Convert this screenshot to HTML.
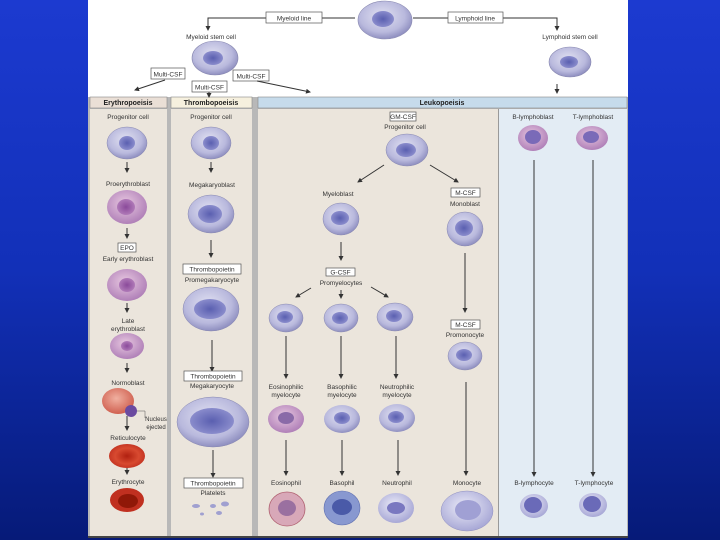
<!DOCTYPE html>
<html><head><meta charset="utf-8"><style>
html,body{margin:0;padding:0;width:720px;height:540px;overflow:hidden}
body{background:linear-gradient(180deg,#1c3ad0 0%,#1230b8 50%,#061a78 100%)}
svg{position:absolute;left:0;top:0}
text{font-family:"Liberation Sans",sans-serif;font-size:6.5px;fill:#333;text-anchor:middle}
.h{font-weight:bold;font-size:7px;fill:#222}
.a{stroke:#333;stroke-width:1;fill:none;marker-end:url(#ar)}
.bx{fill:#fff;stroke:#555;stroke-width:0.7}
</style></head><body>
<svg width="720" height="540" viewBox="0 0 720 540">
<defs>
<marker id="ar" markerWidth="5" markerHeight="5" refX="4" refY="2.5" orient="auto"><path d="M0,0L5,2.5L0,5z" fill="#333"/></marker>
<radialGradient id="cb" cx="45%" cy="40%" r="60%"><stop offset="0" stop-color="#e2e2f2"/><stop offset="0.7" stop-color="#b9b9dd"/><stop offset="1" stop-color="#8f8fc0"/></radialGradient>
<radialGradient id="nb" cx="50%" cy="50%" r="50%"><stop offset="0" stop-color="#5a5fb0"/><stop offset="1" stop-color="#8a8ccc"/></radialGradient>
<radialGradient id="cp" cx="45%" cy="40%" r="60%"><stop offset="0" stop-color="#e8c8e0"/><stop offset="1" stop-color="#b080b8"/></radialGradient>
<radialGradient id="np" cx="50%" cy="50%" r="50%"><stop offset="0" stop-color="#8a4a9a"/><stop offset="1" stop-color="#b07ab8"/></radialGradient>
<radialGradient id="rr" cx="50%" cy="50%" r="55%"><stop offset="0" stop-color="#b02010"/><stop offset="0.6" stop-color="#d84a30"/><stop offset="1" stop-color="#c03020"/></radialGradient>
<radialGradient id="cr" cx="45%" cy="40%" r="60%"><stop offset="0" stop-color="#f0b0a0"/><stop offset="1" stop-color="#d06050"/></radialGradient>
<radialGradient id="cl" cx="45%" cy="40%" r="60%"><stop offset="0" stop-color="#ececf8"/><stop offset="1" stop-color="#a8a8d6"/></radialGradient>
</defs>
<!-- panel -->
<rect x="88" y="0" width="540" height="97" fill="#fff"/>
<rect x="88" y="97" width="540" height="441" fill="#b8b8b8"/>
<rect x="90" y="97" width="77" height="11" fill="#eadfd6" stroke="#888" stroke-width="0.6"/>
<rect x="171" y="97" width="81" height="11" fill="#f6f0de" stroke="#888" stroke-width="0.6"/>
<rect x="258" y="97" width="369" height="11" fill="#c6dbeb" stroke="#888" stroke-width="0.6"/>
<rect x="90" y="109" width="77" height="427" fill="#ebe5dc"/>
<rect x="171" y="109" width="81" height="427" fill="#ebe5dc"/>
<rect x="258" y="109" width="240" height="427" fill="#ebe5dc"/>
<rect x="499" y="109" width="128" height="427" fill="#e3ecf4"/>
<line x1="498.5" y1="109" x2="498.5" y2="536" stroke="#999" stroke-width="1"/>
<text class="h" x="128" y="105">Erythropoeisis</text>
<text class="h" x="211" y="105">Thrombopoeisis</text>
<text class="h" x="442" y="105">Leukopoeisis</text>
<!-- top -->
<g><ellipse cx="385" cy="20" rx="27" ry="19" fill="url(#cb)" stroke="#8888b0" stroke-width="0.6"/><ellipse cx="383" cy="19" rx="11" ry="8" fill="url(#nb)"/></g>
<path d="M355 18H208V30" class="a"/><path d="M413 18H557V30" class="a"/>
<rect class="bx" x="266" y="12" width="56" height="11"/><text x="294" y="20.5">Myeloid line</text>
<rect class="bx" x="448" y="12" width="55" height="11"/><text x="475" y="20.5">Lymphoid line</text>
<text x="211" y="39">Myeloid stem cell</text><text x="570" y="39">Lymphoid stem cell</text>
<ellipse cx="215" cy="58" rx="23" ry="17" fill="url(#cb)" stroke="#8888b0" stroke-width="0.6"/><ellipse cx="213" cy="58" rx="10" ry="7" fill="url(#nb)"/>
<ellipse cx="570" cy="62" rx="21" ry="15" fill="url(#cb)" stroke="#8888b0" stroke-width="0.6"/><ellipse cx="569" cy="62" rx="9" ry="6" fill="url(#nb)"/>
<rect class="bx" x="151" y="68" width="34" height="11"/><text x="168" y="76.5">Multi-CSF</text>
<rect class="bx" x="192" y="81" width="35" height="11"/><text x="209.5" y="89.5">Multi-CSF</text>
<rect class="bx" x="233" y="70" width="36" height="11"/><text x="251" y="78.5">Multi-CSF</text>
<path d="M165 80L135 90" class="a"/><path d="M209 92V97" class="a"/><path d="M257 81L310 92" class="a"/><path d="M557 84V93" class="a"/>
<!-- Erythro -->
<text x="128" y="119">Progenitor cell</text>
<ellipse cx="127" cy="143" rx="20" ry="16" fill="url(#cb)" stroke="#8888b0" stroke-width="0.5"/><ellipse cx="127" cy="143" rx="8" ry="7" fill="url(#nb)"/>
<path d="M127 162V172" class="a"/>
<text x="128" y="186">Proerythroblast</text>
<ellipse cx="127" cy="207" rx="20" ry="17" fill="url(#cp)"/><ellipse cx="126" cy="207" rx="9" ry="8" fill="url(#np)"/>
<path d="M127 228V238" class="a"/>
<rect class="bx" x="118" y="243" width="18" height="9"/><text x="127" y="250">EPO</text>
<text x="128" y="261">Early erythroblast</text>
<ellipse cx="127" cy="285" rx="20" ry="16" fill="url(#cp)"/><ellipse cx="127" cy="285" rx="8" ry="7" fill="url(#np)"/>
<path d="M127 303V312" class="a"/>
<text x="128" y="323">Late</text><text x="128" y="331">erythroblast</text>
<ellipse cx="127" cy="346" rx="17" ry="13" fill="url(#cp)"/><ellipse cx="127" cy="346" rx="6" ry="5" fill="url(#np)"/>
<path d="M127 363V372" class="a"/>
<text x="128" y="385">Normoblast</text>
<ellipse cx="118" cy="401" rx="16" ry="13" fill="url(#cr)"/><circle cx="131" cy="411" r="6" fill="#6a4aa0"/>
<path d="M137 411H145V418" stroke="#555" stroke-width="0.5" fill="none"/>
<text x="156" y="421" style="font-size:6px">Nucleus</text><text x="156" y="429" style="font-size:6px">ejected</text>
<path d="M127 416V430" class="a"/>
<text x="128" y="440">Reticulocyte</text>
<ellipse cx="127" cy="456" rx="18" ry="12" fill="url(#rr)"/>
<path d="M127 468V474" class="a"/>
<text x="128" y="484">Erythrocyte</text>
<ellipse cx="127" cy="500" rx="17" ry="12" fill="#c03020"/><ellipse cx="128" cy="501" rx="10" ry="7" fill="#901808"/>
<!-- Thrombo -->
<text x="211" y="119">Progenitor cell</text>
<ellipse cx="211" cy="143" rx="20" ry="16" fill="url(#cb)" stroke="#8888b0" stroke-width="0.5"/><ellipse cx="211" cy="143" rx="8" ry="7" fill="url(#nb)"/>
<path d="M211 162V172" class="a"/>
<text x="212" y="187">Megakaryoblast</text>
<ellipse cx="211" cy="214" rx="23" ry="19" fill="url(#cb)" stroke="#8888b0" stroke-width="0.5"/><ellipse cx="210" cy="214" rx="12" ry="9" fill="url(#nb)"/>
<path d="M211 240V257" class="a"/>
<rect class="bx" x="183" y="264" width="58" height="10"/><text x="212" y="271.5">Thrombopoietin</text>
<text x="212" y="282">Promegakaryocyte</text>
<ellipse cx="211" cy="309" rx="28" ry="22" fill="url(#cb)" stroke="#8888b0" stroke-width="0.5"/><ellipse cx="210" cy="309" rx="16" ry="10" fill="url(#nb)"/>
<path d="M212 340V371" class="a"/>
<rect class="bx" x="184" y="371" width="58" height="10"/><text x="213" y="378.5">Thrombopoietin</text>
<text x="212" y="388">Megakaryocyte</text>
<ellipse cx="213" cy="422" rx="36" ry="25" fill="url(#cb)" stroke="#8888b0" stroke-width="0.5"/><ellipse cx="212" cy="421" rx="22" ry="13" fill="url(#nb)"/>
<path d="M213 450V477" class="a"/>
<rect class="bx" x="184" y="478" width="59" height="10"/><text x="213" y="485.5">Thrombopoietin</text>
<text x="213" y="495">Platelets</text>
<g fill="#a0a0d0"><ellipse cx="196" cy="506" rx="4" ry="2"/><ellipse cx="213" cy="506" rx="3" ry="2"/><ellipse cx="225" cy="504" rx="4" ry="2.5"/><ellipse cx="202" cy="514" rx="2" ry="1.5"/><ellipse cx="219" cy="513" rx="3" ry="2"/></g>
<!-- Leuko -->
<rect class="bx" x="390" y="112" width="26" height="9"/><text x="403" y="119">GM-CSF</text>
<text x="405" y="129">Progenitor cell</text>
<ellipse cx="407" cy="150" rx="21" ry="16" fill="url(#cb)" stroke="#8888b0" stroke-width="0.5"/><ellipse cx="406" cy="150" rx="10" ry="7" fill="url(#nb)"/>
<path d="M384 165L358 182" class="a"/><path d="M430 165L458 182" class="a"/>
<text x="338" y="196">Myeloblast</text>
<ellipse cx="341" cy="219" rx="18" ry="16" fill="url(#cb)" stroke="#8888b0" stroke-width="0.5"/><ellipse cx="340" cy="218" rx="9" ry="7" fill="url(#nb)"/>
<rect class="bx" x="451" y="188" width="29" height="9"/><text x="465.5" y="195">M-CSF</text>
<text x="465" y="206">Monoblast</text>
<ellipse cx="465" cy="229" rx="18" ry="17" fill="url(#cb)" stroke="#8888b0" stroke-width="0.5"/><ellipse cx="464" cy="228" rx="9" ry="8" fill="url(#nb)"/>
<path d="M341 242V260" class="a"/>
<rect class="bx" x="326" y="268" width="29" height="8"/><text x="340.5" y="274.5">G-CSF</text>
<text x="341" y="285">Promyelocytes</text>
<path d="M311 288L296 297" class="a"/><path d="M341 290V298" class="a"/><path d="M371 287L388 297" class="a"/>
<g stroke="#8888b0" stroke-width="0.5">
<ellipse cx="286" cy="318" rx="17" ry="14" fill="url(#cb)"/><ellipse cx="341" cy="318" rx="17" ry="14" fill="url(#cb)"/><ellipse cx="395" cy="317" rx="18" ry="14" fill="url(#cb)"/>
</g>
<ellipse cx="285" cy="317" rx="8" ry="6" fill="url(#nb)"/><ellipse cx="340" cy="318" rx="8" ry="6" fill="url(#nb)"/><ellipse cx="394" cy="316" rx="8" ry="6" fill="url(#nb)"/>
<path d="M465 253V312" class="a" stroke-width="1.5"/>
<rect class="bx" x="451" y="320" width="29" height="9"/><text x="465.5" y="327">M-CSF</text>
<text x="465" y="337">Promonocyte</text>
<ellipse cx="465" cy="356" rx="17" ry="14" fill="url(#cb)" stroke="#8888b0" stroke-width="0.5"/><ellipse cx="464" cy="355" rx="8" ry="6" fill="url(#nb)"/>
<path d="M286 336V378" class="a"/><path d="M341 336V378" class="a"/><path d="M396 336V378" class="a"/>
<text x="286" y="389">Eosinophilic</text><text x="286" y="397">myelocyte</text>
<text x="342" y="389">Basophilic</text><text x="342" y="397">myelocyte</text>
<text x="397" y="389">Neutrophilic</text><text x="397" y="397">myelocyte</text>
<ellipse cx="286" cy="419" rx="18" ry="14" fill="url(#cp)"/><ellipse cx="286" cy="418" rx="8" ry="6" fill="#8a6aa8"/>
<ellipse cx="342" cy="419" rx="18" ry="14" fill="url(#cb)"/><ellipse cx="342" cy="418" rx="8" ry="6" fill="url(#nb)"/>
<ellipse cx="397" cy="418" rx="18" ry="14" fill="url(#cb)"/><ellipse cx="396" cy="417" rx="8" ry="6" fill="url(#nb)"/>
<path d="M286 440V475" class="a"/><path d="M342 440V475" class="a"/><path d="M398 440V475" class="a"/>
<path d="M466 382V475" class="a"/>
<text x="286" y="485">Eosinophil</text><text x="342" y="485">Basophil</text><text x="397" y="485">Neutrophil</text><text x="467" y="485">Monocyte</text>
<ellipse cx="287" cy="509" rx="18" ry="17" fill="#d8a8b8" stroke="#b06070" stroke-width="0.8"/><ellipse cx="287" cy="508" rx="9" ry="8" fill="#9a70a0"/>
<ellipse cx="342" cy="508" rx="18" ry="17" fill="#8898d0" stroke="#6070b0" stroke-width="0.6"/><ellipse cx="342" cy="507" rx="10" ry="8" fill="#4a5aa8"/>
<ellipse cx="396" cy="508" rx="18" ry="15" fill="url(#cl)"/><ellipse cx="396" cy="508" rx="9" ry="6" fill="#7a78c0"/>
<ellipse cx="467" cy="511" rx="26" ry="20" fill="url(#cl)" stroke="#9090c0" stroke-width="0.5"/><ellipse cx="468" cy="510" rx="13" ry="10" fill="#a0a0d4"/>
<!-- Lymphoid -->
<text x="533" y="119">B-lymphoblast</text><text x="593" y="119">T-lymphoblast</text>
<ellipse cx="533" cy="138" rx="15" ry="13" fill="url(#cp)"/><ellipse cx="533" cy="137" rx="8" ry="7" fill="#7a6ab8"/>
<ellipse cx="592" cy="138" rx="16" ry="12" fill="url(#cp)"/><ellipse cx="591" cy="137" rx="8" ry="6" fill="#7a6ab8"/>
<path d="M534 160V476" class="a"/><path d="M593 160V476" class="a"/>
<text x="534" y="485">B-lymphocyte</text><text x="594" y="485">T-lymphocyte</text>
<ellipse cx="534" cy="506" rx="14" ry="12" fill="url(#cl)"/><ellipse cx="533" cy="505" rx="9" ry="8" fill="#6a6ab8"/>
<ellipse cx="593" cy="505" rx="14" ry="12" fill="url(#cl)"/><ellipse cx="592" cy="504" rx="9" ry="8" fill="#6a6ab8"/>
<rect x="88" y="536" width="540" height="2" fill="#444"/>
</svg>
</body></html>
